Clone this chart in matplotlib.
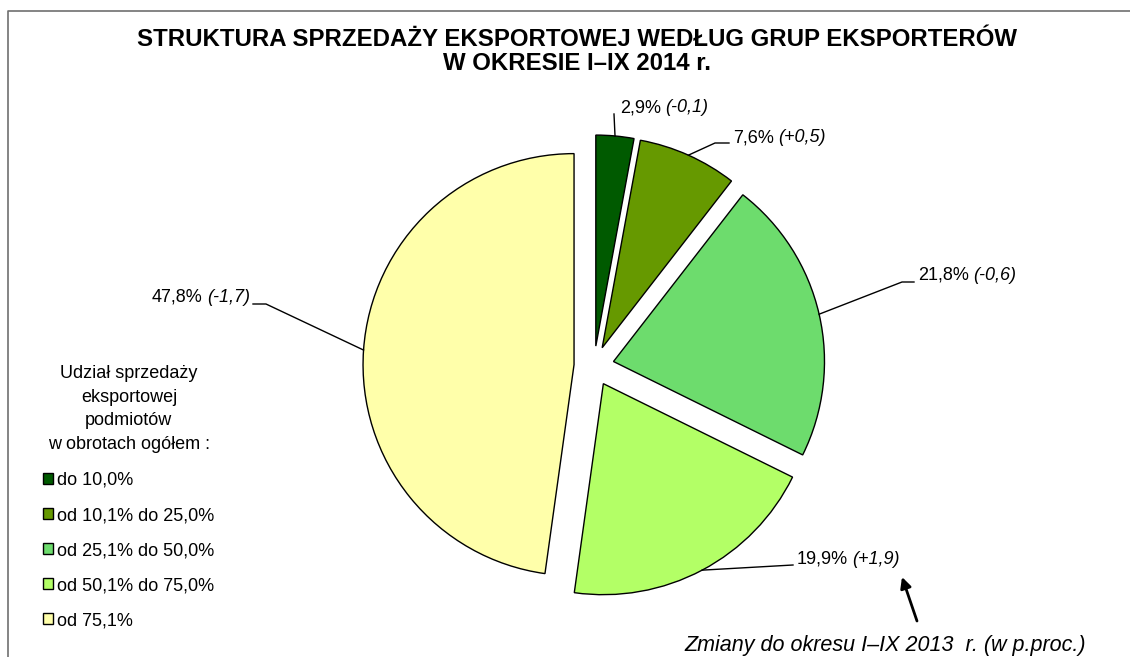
"""
Struktura sprzedaży eksportowej według grup eksporterów (pie chart)
"""

import numpy as np
import matplotlib.pyplot as plt

plt.rcParams["font.family"] = ["Liberation Sans", "DejaVu Sans"]
plt.rcParams["font.size"] = 13

# data
categories = [
    "do 10,0%",
    "od 10,1% do 25,0%",
    "od 25,1% do 50,0%",
    "od 50,1% do 75,0%",
    "od 75,1%",
]
shares = [2.9, 7.6, 21.8, 19.9, 47.8]
changes = [-0.1, 0.5, -0.6, 1.9, -1.7]
colors = ["#005a00", "#669900", "#6ddc6d", "#b3ff66", "#ffffaa"]

title_lines = [
    "STRUKTURA SPRZEDAŻY EKSPORTOWEJ WEDŁUG GRUP EKSPORTERÓW",
    "W OKRESIE I–IX 2014 r.",
]
legend_title = "Udział sprzedaży\neksportowej\npodmiotów\nw obrotach ogółem :"
note = "Zmiany do okresu I–IX 2013  r. (w p.proc.)"

# layout (pixel coords, y from top)
W, H = 1130, 657
label_pos = [(620, 108, "left"), (733, 138, "left"), (918, 275, "left"),
             (797, 559, "left"), (250, 297, "right")]
leader_pts = [[(614, 114)], [(715, 143), (729, 143)], [(902, 282), (914, 282)],
              [(793, 565)], [(266, 304), (253, 304)]]


def px(x, y):
    return x, H - y


def fmt(v, signed=False):
    s = f"{v:+.1f}" if signed else f"{v:.1f}"
    return s.replace(".", ",")


fig = plt.figure(figsize=(W / 100, H / 100), dpi=100)
ax = fig.add_axes([0, 0, 1, 1])

# explode is in data units (pixels here)
wedges, _ = ax.pie(
    shares, colors=colors, startangle=90, counterclock=False,
    explode=[20] * len(shares), center=px(594, 366), radius=211,
    wedgeprops=dict(edgecolor="black", linewidth=1),
)
ax.set_xlim(0, W)
ax.set_ylim(0, H)
ax.set_aspect("equal")
ax.axis("off")

# frame lines (left + top)
ax.plot([8, 8, W], [0, H - 11, H - 11], color="#707070", lw=1.2, clip_on=False)

# labels with leader lines
for w, v, c, (tx, ty, ha), pts in zip(wedges, shares, changes, label_pos, leader_pts):
    ang = np.deg2rad((w.theta1 + w.theta2) / 2)
    ax0 = w.center[0] + w.r * np.cos(ang)
    ay0 = w.center[1] + w.r * np.sin(ang)
    xs = [ax0] + [px(*p)[0] for p in pts]
    ys = [ay0] + [px(*p)[1] for p in pts]
    ax.plot(xs, ys, color="black", lw=1)
    if ha == "left":
        t1 = ax.text(*px(tx, ty), fmt(v) + "%", ha="left", va="center")
        ax.annotate(f"({fmt(c, True)})", xy=(1, 0.5), xycoords=t1,
                    xytext=(3, 0), textcoords="offset points",
                    ha="left", va="center", style="italic")
    else:
        t2 = ax.text(*px(tx, ty), f"({fmt(c, True)})", ha="right", va="center",
                     style="italic")
        ax.annotate(fmt(v) + "%", xy=(0, 0.5), xycoords=t2,
                    xytext=(-3, 0), textcoords="offset points",
                    ha="right", va="center")

# title
ax.text(*px(577, 40), title_lines[0], ha="center", va="center",
        fontsize=17.3, fontweight="bold")
ax.text(*px(577, 63), title_lines[1], ha="center", va="center",
        fontsize=17.3, fontweight="bold")

# change note with arrow
ax.annotate("", xy=px(902, 577), xytext=px(917, 621),
            arrowprops=dict(arrowstyle="-|>", lw=2, color="black",
                            mutation_scale=16, shrinkA=0, shrinkB=0))
ax.text(*px(885, 645), note, ha="center", va="center", style="italic",
        fontsize=15.5)

# legend
leg = ax.legend(
    wedges, categories, title=legend_title, loc="upper left",
    bbox_to_anchor=px(34, 356), bbox_transform=ax.transData,
    frameon=False, borderpad=0, handlelength=0.55, handleheight=0.55,
    handletextpad=0.25, labelspacing=1.0, fontsize=13, title_fontsize=13,
)
leg.get_title().set_linespacing(1.5)
leg.get_title().set_multialignment("center")
leg._legend_box.sep = 14

plt.savefig("out.png", dpi=100)
